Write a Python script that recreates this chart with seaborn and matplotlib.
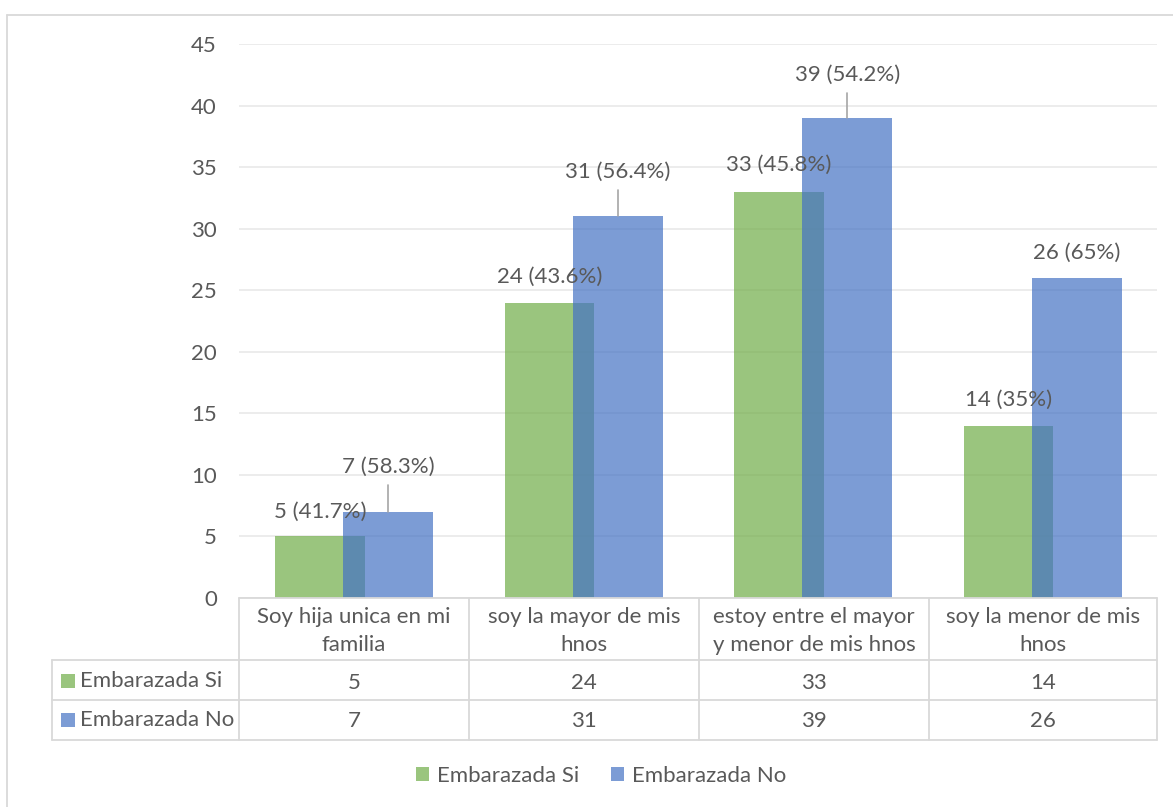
import numpy as np
import pandas as pd
import matplotlib
matplotlib.use("Agg")
import matplotlib.pyplot as plt
import seaborn as sns
from matplotlib.lines import Line2D
from matplotlib.patches import Rectangle

# ---- data ----
categorias = [
    "Soy hija unica en mi\nfamilia",
    "soy la mayor de mis\nhnos",
    "estoy entre el mayor\ny menor de mis hnos",
    "soy la menor de mis\nhnos",
]
series = ["Embarazada Si", "Embarazada No"]
embarazada_si = [5, 24, 33, 14]
embarazada_no = [7, 31, 39, 26]
y_ticks = [0, 5, 10, 15, 20, 25, 30, 35, 40, 45]

# ---- style ----
sns.set_theme(style="white")
plt.rcParams["font.family"] = ["Lato", "DejaVu Sans"]
TXT = "#595959"
GRID = "#D9D9D9"
FS = 16
colores = ["#70AD47", "#4472C4"]
ALPHA = 0.7

W, H = 1173, 807
fig = plt.figure(figsize=(W / 100, H / 100), dpi=100)


def fx(px):
    return px / W


def fy(py):
    return 1 - py / H


ax = fig.add_axes([fx(239), fy(598), fx(1157) - fx(239), fy(44) - fy(598)])

df = pd.DataFrame({
    "categoria": categorias * 2,
    "serie": [series[0]] * 4 + [series[1]] * 4,
    "valor": embarazada_si + embarazada_no,
})

sns.barplot(data=df, x="categoria", y="valor", hue="serie", order=categorias,
            hue_order=series, palette=colores, alpha=ALPHA, saturation=1,
            dodge=True, errorbar=None, linewidth=0, legend=False, ax=ax)

# overlapping clustered bars
bar_w = 0.392
offsets = [-0.147, 0.150]
for k, cont in enumerate(ax.containers):
    for i, bar in enumerate(cont):
        c = i + offsets[k]
        bar.set_x(c - bar_w / 2)
        bar.set_width(bar_w)

ax.set_xlim(-0.5, 3.5)
ax.set_ylim(0, 45)
ax.set_yticks(y_ticks)
ax.set_yticklabels([str(t) for t in y_ticks], fontsize=FS, color=TXT)
ax.tick_params(axis="y", length=0, pad=16)
ax.set_xticks([])
ax.set_xlabel("")
ax.set_ylabel("")
ax.yaxis.grid(True, color="#EBEBEB", linewidth=1.3)
ax.set_axisbelow(True)
for s in ax.spines.values():
    s.set_visible(False)

# data labels: "value (share%)"
totales = [a + b for a, b in zip(embarazada_si, embarazada_no)]


def etiqueta(v, tot):
    p = f"{100 * v / tot:.1f}".rstrip("0").rstrip(".")
    return f"{v} ({p}%)"


subida_si = [25, 26, 27, 26]
subida_no = [45, 44, 43, 25]
px_per_unit = 554 / 45
for k, (vals, subida) in enumerate([(embarazada_si, subida_si), (embarazada_no, subida_no)]):
    for i, v in enumerate(vals):
        x = i + offsets[k]
        rise = subida[i]
        ax.annotate(etiqueta(v, totales[i]), xy=(x, v), xytext=(0, rise * 0.72),
                    textcoords="offset points", ha="center", va="center",
                    fontsize=FS, color=TXT, annotation_clip=False)
        if rise > 35:
            y0 = v
            y1 = v + (rise - 18) / px_per_unit
            ax.plot([x, x], [y0, y1], color="#A6A6A6", lw=1.2, clip_on=False)

# ---- data table below the axis ----
col_x = [239, 469, 699, 929, 1157]
row_y = [598, 660, 700, 740]
lk = dict(color=GRID, lw=1.3, transform=fig.transFigure)
fig.add_artist(Line2D([fx(239), fx(1157)], [fy(598), fy(598)], **lk))
for yy in row_y[1:]:
    fig.add_artist(Line2D([fx(52), fx(1157)], [fy(yy), fy(yy)], **lk))
for xx in col_x:
    fig.add_artist(Line2D([fx(xx), fx(xx)], [fy(598), fy(740)], **lk))
fig.add_artist(Line2D([fx(52), fx(52)], [fy(660), fy(740)], **lk))

for i, cat in enumerate(categorias):
    cx = (col_x[i] + col_x[i + 1]) / 2
    fig.text(fx(cx), fy(631), cat, ha="center", va="center", fontsize=FS,
             color=TXT, linespacing=1.5)
    fig.text(fx(cx), fy(683), str(embarazada_si[i]), ha="center", va="center",
             fontsize=FS, color=TXT)
    fig.text(fx(cx), fy(721), str(embarazada_no[i]), ha="center", va="center",
             fontsize=FS, color=TXT)

for j, (nombre, ycen) in enumerate(zip(series, [681, 720])):
    fig.add_artist(Rectangle((fx(61), fy(ycen + 7)), 14 / W, 14 / H,
                             facecolor=colores[j], alpha=ALPHA, lw=0,
                             transform=fig.transFigure))
    fig.text(fx(80), fy(ycen), nombre, ha="left", va="center", fontsize=FS, color=TXT)

# ---- legend ----
handles = [Rectangle((0, 0), 1, 1, facecolor=c, alpha=ALPHA, lw=0) for c in colores]
fig.legend(handles, series, loc="center", bbox_to_anchor=(fx(601), fy(776)),
           ncol=2, frameon=False, fontsize=FS, labelcolor=TXT,
           handlelength=0.6, handleheight=0.6, handletextpad=0.35,
           columnspacing=1.4)

# ---- chart border ----
bk = dict(color=GRID, lw=1.3, transform=fig.transFigure)
fig.add_artist(Line2D([fx(7), 1.0], [fy(15), fy(15)], **bk))
fig.add_artist(Line2D([fx(7), fx(7)], [fy(15), 0.0], **bk))

fig.savefig("out.png", dpi=100, facecolor="white")
